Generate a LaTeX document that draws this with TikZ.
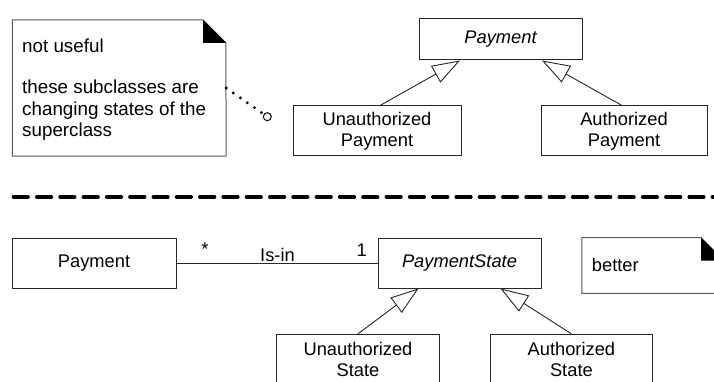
\documentclass[tikz,border=0pt]{standalone}
\usepackage{fontspec}
\setmainfont{Liberation Sans}
\usetikzlibrary{arrows.meta,calc}
\begin{document}
\begin{tikzpicture}[x=1pt,y=-1pt,
  every node/.style={font=\fontsize{18.3}{21}\selectfont},
  cls/.style={draw=black!85,line width=1pt,rectangle,inner sep=0pt,align=center,fill=white},
  gen/.style={draw=black!85,line width=0.9pt,-{Triangle[open,length=28pt,width=19pt,line width=0.9pt]}},
  noteline/.style={draw=black!65,line width=1pt},
  fold/.style={fill=black},
  mult/.style={inner sep=0pt}
]
\useasboundingbox (0,0) rectangle (714,382);
\clip (0,0) rectangle (714,382);

% ---------- top half ----------
\node[draw=none,minimum width=213.5pt,minimum height=136pt,inner sep=0pt] (note) at (119.25,88) {};
\path[noteline] (note.north west) -- ++(190.5,0) -- ++(23,23) -- (note.south east) -- (note.south west) -- cycle;
\path[fold] ($(note.north east)+(-23,0)$) -- ++(0,23) -- ++(23,0) -- cycle;
\node[align=left,anchor=north west,inner sep=0pt,font=\fontsize{18.8}{21.6}\selectfont] (notetext) at (22,38.2)
  {not useful\\[20pt]these subclasses are\\changing states of the\\superclass};

\node[draw=black,line width=1pt,circle,minimum size=8pt,inner sep=0pt,fill=white] (ring) at (267.3,116.7) {};
\draw[line width=3.2pt,line cap=round,dash pattern=on 0pt off 8.6pt] (note.east) -- (ring);

\node[cls,minimum width=163pt,minimum height=41pt] (pay) at (500.5,39.5) {\itshape Payment};
\node[cls,minimum width=168pt,minimum height=50pt] (up) at (377,131) {Unauthorized\\Payment};
\node[cls,minimum width=166pt,minimum height=50pt] (ap) at (624,131) {Authorized\\Payment};
\draw[gen] ([xshift=3pt]up.north) -- ([xshift=-40.5pt]pay.south);
\draw[gen] ([xshift=-2pt]ap.north) -- ([xshift=41.5pt]pay.south);

% ---------- separator ----------
\coordinate (sepL) at (13.5,197);
\coordinate (sepR) at (720,197);
\draw[line width=3.6pt,line cap=round,dash pattern=on 14.6pt off 8.7pt] (sepL) -- (sepR);

% ---------- bottom half ----------
\node[cls,minimum width=164pt,minimum height=50pt] (bp) at (94,263) {Payment};
\node[cls,minimum width=163pt,minimum height=50pt] (ps) at (459.5,263) {\itshape PaymentState};
\draw[draw=black!85,line width=1pt] (bp.east) -- (ps.west);
\node[mult] (star) at (205,249) {*};
\node[mult,anchor=base] (isin) at (277.5,261) {Is-in};
\node[mult,anchor=base] (one) at (361.7,256.7) {1};

\node[cls,minimum width=162.6pt,minimum height=50pt] (us) at (358,359.3) {Unauthorized\\State};
\node[cls,minimum width=162.7pt,minimum height=50pt] (as) at (571.4,359.3) {Authorized\\State};
\draw[gen] (us.north) -- ([xshift=-41pt]ps.south);
\draw[gen] (as.north) -- ([xshift=41pt]ps.south);

\node[draw=none,minimum width=142pt,minimum height=55.5pt,inner sep=0pt] (better) at (653,265.5) {};
\path[noteline] (better.north west) -- ++(119,0) -- ++(23,23) -- (better.south east) -- (better.south west) -- cycle;
\path[fold] ($(better.north east)+(-23,0)$) -- ++(0,23) -- ++(23,0) -- cycle;
\node[anchor=base west,inner sep=0pt] (bettertext) at (591.7,271.7) {better};
\end{tikzpicture}
\end{document}
